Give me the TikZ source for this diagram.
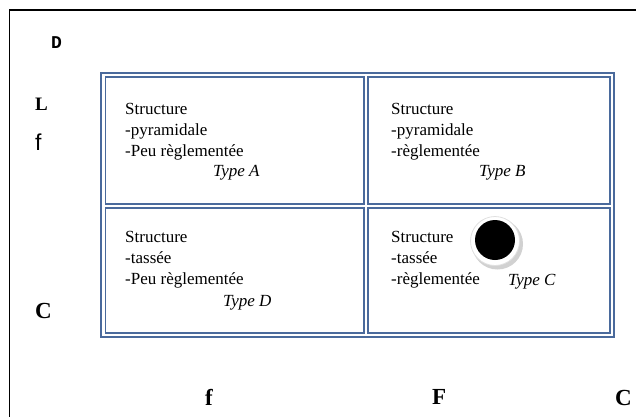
\documentclass[tikz,border=0pt]{standalone}
\usepackage{fontspec}
\setmainfont{Liberation Serif}
\newfontfamily\monofont{Liberation Mono}
\newfontfamily\sansfont{Liberation Sans}
\definecolor{tableblue}{HTML}{4A6A9C}
\tikzset{cellline/.style={draw=tableblue, line width=1.6pt},
 celltext/.style={anchor=north west, inner sep=0pt, align=left,
   font=\fontsize{17}{21}\selectfont},
 typetext/.style={anchor=base west, inner sep=0pt,
   font=\fontsize{17}{21}\selectfont\itshape},
 axisletter/.style={anchor=base west, inner sep=0pt,
   font=\fontsize{23}{23}\selectfont\bfseries},
 }

\begin{document}
\begin{tikzpicture}[x=1pt,y=-1pt]
        \useasboundingbox (0,0) rectangle (636,416);
        % page frame
        \draw[line width=1.5pt] (9.5,420) -- (9.5,10) -- (640,10);
        % table
        \draw[cellline] (101,73) rectangle (614,337);
        \draw[cellline] (105.5,77) rectangle (364,204);
        \draw[cellline] (368,77) rectangle (610,204);
        \draw[cellline] (105.5,208) rectangle (364,333);
        \draw[cellline] (368,208) rectangle (610,333);
        % cell texts
        \node[celltext] (txtA) at (125,103.5) {Structure\\-pyramidale\\-Peu règlementée};
        \node[typetext] (typeA) at (213,176) {Type A};
        \node[celltext] (txtB) at (391,103.5) {Structure\\-pyramidale\\-règlementée};
        \node[typetext] (typeB) at (479,176) {Type B};
        \node[celltext] (txtD) at (125,231.5) {Structure\\-tassée\\-Peu règlementée};
        \node[typetext] (typeD) at (223,306) {Type D};
        \node[celltext] (txtC) at (391,231.5) {Structure\\-tassée\\-règlementée};
        \node[typetext] (typeC) at (508,285) {Type C};
        % marker
        \fill[black!30, opacity=.6] (497.5,244) circle (25.5);
        \draw[fill=white, draw=black!12, line width=.8pt] (495,241) circle (24.5);
        \fill[black] (495,240) circle (20);
        % side letters
        \node[anchor=base west, inner sep=0pt, font=\fontsize{18}{18}\monofont\bfseries] (lblD) at (51,48) {D};
        \node[anchor=base west, inner sep=0pt, font=\fontsize{19}{19}\selectfont\bfseries] (lblL) at (35,110) {L};
        \node[anchor=base west, inner sep=0pt, font=\fontsize{23}{23}\sansfont] (lblf) at (35,150) {f};
        \node[axisletter] (lblC) at (35,318) {C};
        \node[axisletter] (botf) at (205,405) {f};
        \node[axisletter] (botF) at (432,404) {F};
        \node[axisletter] (botC) at (615,405) {C};
\end{tikzpicture}
\end{document}
